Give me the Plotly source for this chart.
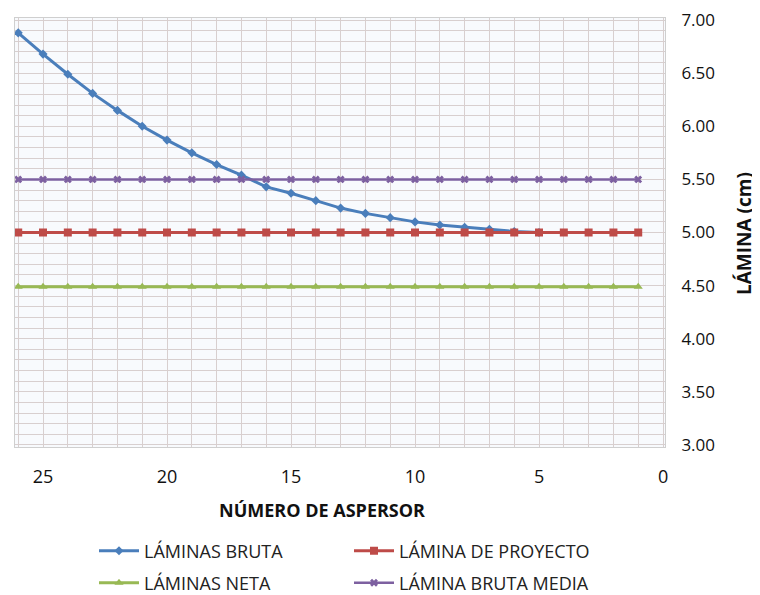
import plotly.graph_objects as go

# ---- data ----
aspersor_bruta = list(range(26, 4, -1))
laminas_bruta = [6.88, 6.68, 6.49, 6.31, 6.15, 6.00, 5.87, 5.75, 5.64, 5.54, 5.43,
                 5.37, 5.30, 5.23, 5.18, 5.14, 5.10, 5.07, 5.05, 5.03, 5.01, 5.00]
aspersor = list(range(26, 0, -1))
lamina_proyecto = [5.00] * len(aspersor)
laminas_neta = [4.49] * len(aspersor)
lamina_bruta_media = [5.50] * len(aspersor)

x_ticks = [25, 20, 15, 10, 5, 0]
y_ticks = [3.0, 3.5, 4.0, 4.5, 5.0, 5.5, 6.0, 6.5, 7.0]

FONT = "Open Sans"
BLUE = "#4a7ebb"
RED = "#be4b48"
GREEN = "#98b954"
PURPLE = "#7d60a0"
GRID = "#d8cfcf"

fig = go.Figure()
fig.add_trace(go.Scatter(x=aspersor_bruta, y=laminas_bruta, mode="lines+markers",
                         name="LÁMINAS BRUTA", line=dict(color=BLUE, width=3),
                         marker=dict(symbol="diamond", size=7, color=BLUE),
                         legend="legend", showlegend=True))
fig.add_trace(go.Scatter(x=aspersor, y=lamina_proyecto, mode="lines+markers",
                         name="LÁMINA DE PROYECTO", line=dict(color=RED, width=3),
                         marker=dict(symbol="square", size=8, color=RED),
                         legend="legend2", showlegend=True))
fig.add_trace(go.Scatter(x=aspersor, y=laminas_neta, mode="lines+markers",
                         name="LÁMINAS NETA", line=dict(color=GREEN, width=3),
                         marker=dict(symbol="triangle-up", size=8, color=GREEN),
                         legend="legend3", showlegend=True))
fig.add_trace(go.Scatter(x=aspersor, y=lamina_bruta_media, mode="lines+markers",
                         name="LÁMINA BRUTA MEDIA", line=dict(color=PURPLE, width=2.5),
                         marker=dict(symbol="x", size=7, color=PURPLE),
                         legend="legend4", showlegend=True))

# layout geometry (page pixels); page body has an 8px margin
O = 8
L, R, T, B = 15 - O, 665 - O, 18 - O, 447 - O
W, H = 760 - O, 595 - O

def px_x(px):
    return (px - O - L) / (R - L)

def px_y(py):
    return (B - (py - O)) / (B - T)

leg_common = dict(orientation="h", font=dict(family=FONT, size=18, color="#222"),
                  bgcolor="rgba(0,0,0,0)", xanchor="left", yanchor="middle",
                  itemwidth=40, visible=True)

fig.update_layout(
    width=W, height=H,
    showlegend=True,
    margin=dict(l=L, r=W - R, t=T, b=H - B, autoexpand=False),
    paper_bgcolor="white", plot_bgcolor="#f8fafd",
    font=dict(family=FONT, color="#111"),
    legend=dict(x=px_x(94), y=px_y(551), **leg_common),
    legend2=dict(x=px_x(349), y=px_y(551), **leg_common),
    legend3=dict(x=px_x(94), y=px_y(583), **leg_common),
    legend4=dict(x=px_x(349), y=px_y(583), **leg_common),
    xaxis=dict(range=[26.13, -0.08], tickvals=x_ticks, ticktext=[str(v) for v in x_ticks],
               automargin=False,
               showgrid=True, gridcolor=GRID, gridwidth=1,
               minor=dict(dtick=1, tick0=0, showgrid=True, gridcolor=GRID, gridwidth=1),
               zeroline=False, showline=True, linecolor="#cfcfcf", mirror=True,
               ticks="", ticklabelstandoff=13,
               tickfont=dict(family=FONT, size=18, color="#111")),
    yaxis=dict(range=[2.98, 7.02], tickvals=y_ticks, ticktext=[f"{v:.2f}" for v in y_ticks],
               automargin=False,
               side="right", showgrid=True, gridcolor=GRID, gridwidth=1,
               minor=dict(dtick=0.1, tick0=0, showgrid=True, gridcolor=GRID, gridwidth=1),
               zeroline=False, showline=True, linecolor="#cfcfcf", mirror=True,
               ticks="", ticklabelstandoff=12,
               tickfont=dict(family=FONT, size=17, color="#111")),
    annotations=[
        dict(text="<b>NÚMERO DE ASPERSOR</b>", xref="paper", yref="paper",
             x=px_x(322), y=px_y(510), showarrow=False, xanchor="center", yanchor="middle",
             font=dict(family=FONT, size=18, color="#111")),
        dict(text="<b>LÁMINA (cm)</b>", xref="paper", yref="paper",
             x=px_x(744), y=px_y(234), showarrow=False, xanchor="center", yanchor="middle",
             textangle=-90, font=dict(family=FONT, size=19, color="#111")),
    ],
)

fig.write_html("out.html")
